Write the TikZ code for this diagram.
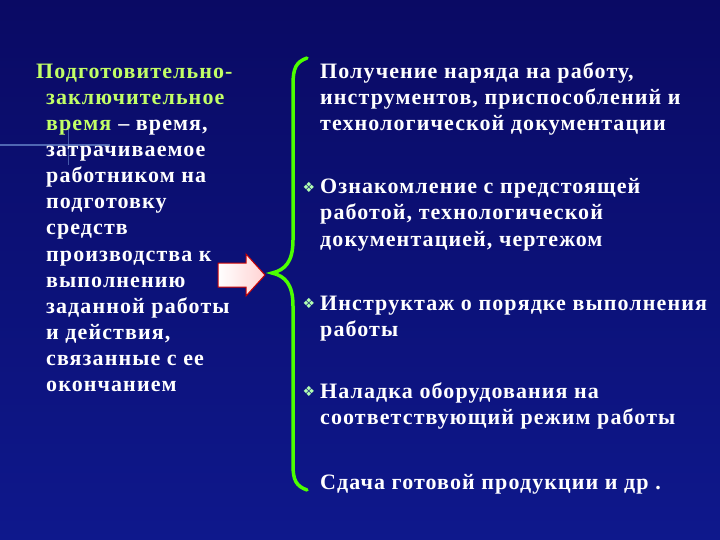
\documentclass[tikz,border=0pt]{standalone}
\usepackage{fontspec}
\setmainfont[LetterSpace=5]{Liberation Serif}
\newfontfamily\djv{DejaVu Sans}
\begin{document}
\begin{tikzpicture}[x=1pt,y=-1pt,
  txt/.style={anchor=base west,inner sep=0pt,font=\bfseries\fontsize{22}{22}\selectfont,text=white},
  grn/.style={txt,text=green!40!yellow!60!white},
  bul/.style={anchor=center,inner sep=0pt,font=\djv\fontsize{14}{14}\selectfont,text=green!30!white}]
\shade[top color={rgb,255:red,10;green,10;blue,100},bottom color={rgb,255:red,14;green,24;blue,140}] (0,0) rectangle (720,540);
\useasboundingbox (0,0) rectangle (720,540);
\draw[cyan!40!blue!60!white,line width=1.2pt,opacity=0.7] (0,145) -- (110,145);
\draw[cyan!40!blue!60!white,line width=1pt,opacity=0.6] (68,122) -- (68,165);
% left text
\node[grn] (l1) at (36,79) {Подготовительно-};
\node[grn] (l2) at (46,105) {заключительное};
\node[grn] (l3a) at (46,131) {время};
\node[txt] (l3b) at (l3a.base east) {\ – время,};
\node[txt] (l4) at (46,157) {затрачиваемое};
\node[txt] (l5) at (46,183) {работником на};
\node[txt] (l6) at (46,209) {подготовку};
\node[txt] (l7) at (46,235) {средств};
\node[txt] (l8) at (46,261) {производства к};
\node[txt] (l9) at (46,287) {выполнению};
\node[txt] (l10) at (46,313) {заданной работы};
\node[txt] (l11) at (46,339) {и действия,};
\node[txt] (l12) at (46,365) {связанные с ее};
\node[txt] (l13) at (46,391) {окончанием};
% arrow
\shade[left color=white,right color=pink!70!white,draw=red!80!black,line width=1pt]
  (218,263) -- (246,263) -- (246,254) -- (265,275) -- (246,296) -- (246,287) -- (218,287) -- cycle;
% brace
\draw[green!70!yellow,line width=3.5pt,line cap=round]
  (307,58) .. controls (296,62) and (293,68) .. (293,85) -- (293,240)
  .. controls (293,262) and (285,270) .. (272,273)
  .. controls (285,276) and (293,284) .. (293,306) -- (293,465)
  .. controls (293,480) and (296,486) .. (307,490);
% right items
\node[txt] (r1) at (320,79) {Получение наряда на работу,};
\node[txt] at (320,105) {инструментов, приспособлений и};
\node[txt] at (320,131) {технологической документации};
\node[bul] at (309,187) {❖};
\node[txt] (r2) at (320,194) {Ознакомление с предстоящей};
\node[txt] at (320,220) {работой, технологической};
\node[txt] at (320,246) {документацией, чертежом};
\node[bul] at (309,303) {❖};
\node[txt] (r3) at (320,310) {Инструктаж о порядке выполнения};
\node[txt] at (320,336) {работы};
\node[bul] at (309,391) {❖};
\node[txt] (r4) at (320,398) {Наладка оборудования на};
\node[txt] at (320,424) {соответствующий режим работы};
\node[txt] (r5) at (320,489) {Сдача готовой продукции и др .};
\end{tikzpicture}
\end{document}
